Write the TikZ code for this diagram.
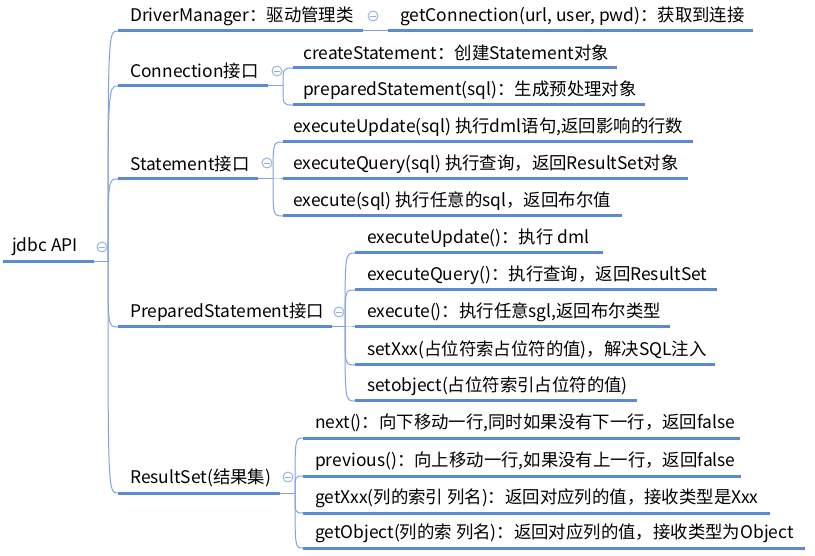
\documentclass[tikz,border=0pt]{standalone}
\usepackage{fontspec}
\setmainfont{Noto Sans CJK SC}
\definecolor{ulblue}{HTML}{5A8AD0}
\definecolor{lnblue}{HTML}{7FA3DB}
\definecolor{cbblue}{HTML}{8FB0E0}
\tikzset{
  txt/.style={anchor=west,inner sep=0pt,font=\fontsize{17.4}{20}\selectfont,text=black},
  ul/.style={draw=ulblue,line width=3pt},
  lnk/.style={draw=lnblue,line width=1pt},
  collapse/.style={circle,draw=cbblue,line width=0.9pt,minimum size=10pt,inner sep=0pt,fill=white,
    path picture={\draw[cbblue,line width=0.9pt]([xshift=-2.6pt]path picture bounding box.center)--([xshift=2.6pt]path picture bounding box.center);}}
}
% name, underline start x, text x, underline end x, underline y, text
\newcommand\mmitem[6]{%
  \coordinate (#1-s) at (#2,#5);
  \coordinate (#1-e) at (#4,#5);
  \node[txt] (#1) at (#3,#5-15) {#6};
  \draw[ul] (#1-s) -- (#1-e);
}
\newcommand\mmlink[2]{\draw[lnk] (#1) .. controls (#1 |- #2) .. (#2);}
\begin{document}
\begin{tikzpicture}[x=1pt,y=-1pt]
\useasboundingbox (0,0) rectangle (815,556);
% root
\mmitem{root}{3}{12}{94}{262}{jdbc API}
\coordinate (rootb) at (108,262);
\draw[lnk] (root-e) -- (rootb);
\node[collapse] (c0) at (102,247) {};
% level 1
\mmitem{dm}{118}{130}{363}{31}{DriverManager：驱动管理类}
\mmitem{con}{118}{130}{268}{86}{Connection接口}
\mmitem{st}{118}{130}{258}{179}{Statement接口}
\mmitem{ps}{118}{130}{332}{327}{PreparedStatement接口}
\mmitem{rs}{118}{130}{280}{493}{ResultSet(结果集)}
\foreach \n in {dm,con,st,ps,rs}{\mmlink{rootb}{\n-s}}
% DriverManager
\mmitem{gc}{388}{400}{753}{31}{getConnection(url, user, pwd)：获取到连接}
\draw[lnk] (dm-e) -- (gc-s);
\node[collapse] (c1) at (373,16) {};
% Connection
\coordinate (conb) at (283,86);
\draw[lnk] (con-e) -- (conb);
\node[collapse] (c2) at (277,71) {};
\mmitem{con1}{293}{303}{617}{68}{createStatement：创建Statement对象}
\mmitem{con2}{293}{303}{645}{105}{preparedStatement(sql)：生成预处理对象}
\foreach \n in {con1,con2}{\mmlink{conb}{\n-s}}
% Statement
\coordinate (stb) at (273,179);
\draw[lnk] (st-e) -- (stb);
\node[collapse] (c3) at (267,163) {};
\mmitem{st1}{283}{293}{693}{142}{executeUpdate(sql) 执行dml语句,返回影响的行数}
\mmitem{st2}{283}{293}{688}{179}{executeQuery(sql) 执行查询，返回ResultSet对象}
\mmitem{st3}{283}{293}{622}{216}{execute(sql) 执行任意的sql，返回布尔值}
\foreach \n in {st1,st2,st3}{\mmlink{stb}{\n-s}}
% PreparedStatement
\coordinate (psb) at (345,327);
\draw[lnk] (ps-e) -- (psb);
\node[collapse] (c4) at (339,312) {};
\mmitem{ps1}{355}{367}{603}{253}{executeUpdate()：执行 dml}
\mmitem{ps2}{355}{367}{717}{290}{executeQuery()：执行查询，返回ResultSet}
\mmitem{ps3}{355}{367}{670}{327}{execute()：执行任意sgl,返回布尔类型}
\mmitem{ps4}{355}{367}{715}{365}{setXxx(占位符索占位符的值)，解决SQL注入}
\mmitem{ps5}{355}{367}{637}{401}{setobject(占位符索引占位符的值)}
\foreach \n in {ps1,ps2,ps3,ps4,ps5}{\mmlink{psb}{\n-s}}
% ResultSet
\coordinate (rsb) at (295,493);
\draw[lnk] (rs-e) -- (rsb);
\node[collapse] (c5) at (288,477) {};
\mmitem{rs1}{303}{315}{740}{438}{next()：向下移动一行,同时如果没有下一行，返回false}
\mmitem{rs2}{303}{315}{741}{476}{previous()：向上移动一行,如果没有上一行，返回false}
\mmitem{rs3}{303}{315}{770}{513}{getXxx(列的索引 列名)：返回对应列的值，接收类型是Xxx}
\mmitem{rs4}{303}{315}{805}{548}{getObject(列的索 列名)：返回对应列的值，接收类型为Object}
\foreach \n in {rs1,rs2,rs3,rs4}{\mmlink{rsb}{\n-s}}
\end{tikzpicture}
\end{document}
